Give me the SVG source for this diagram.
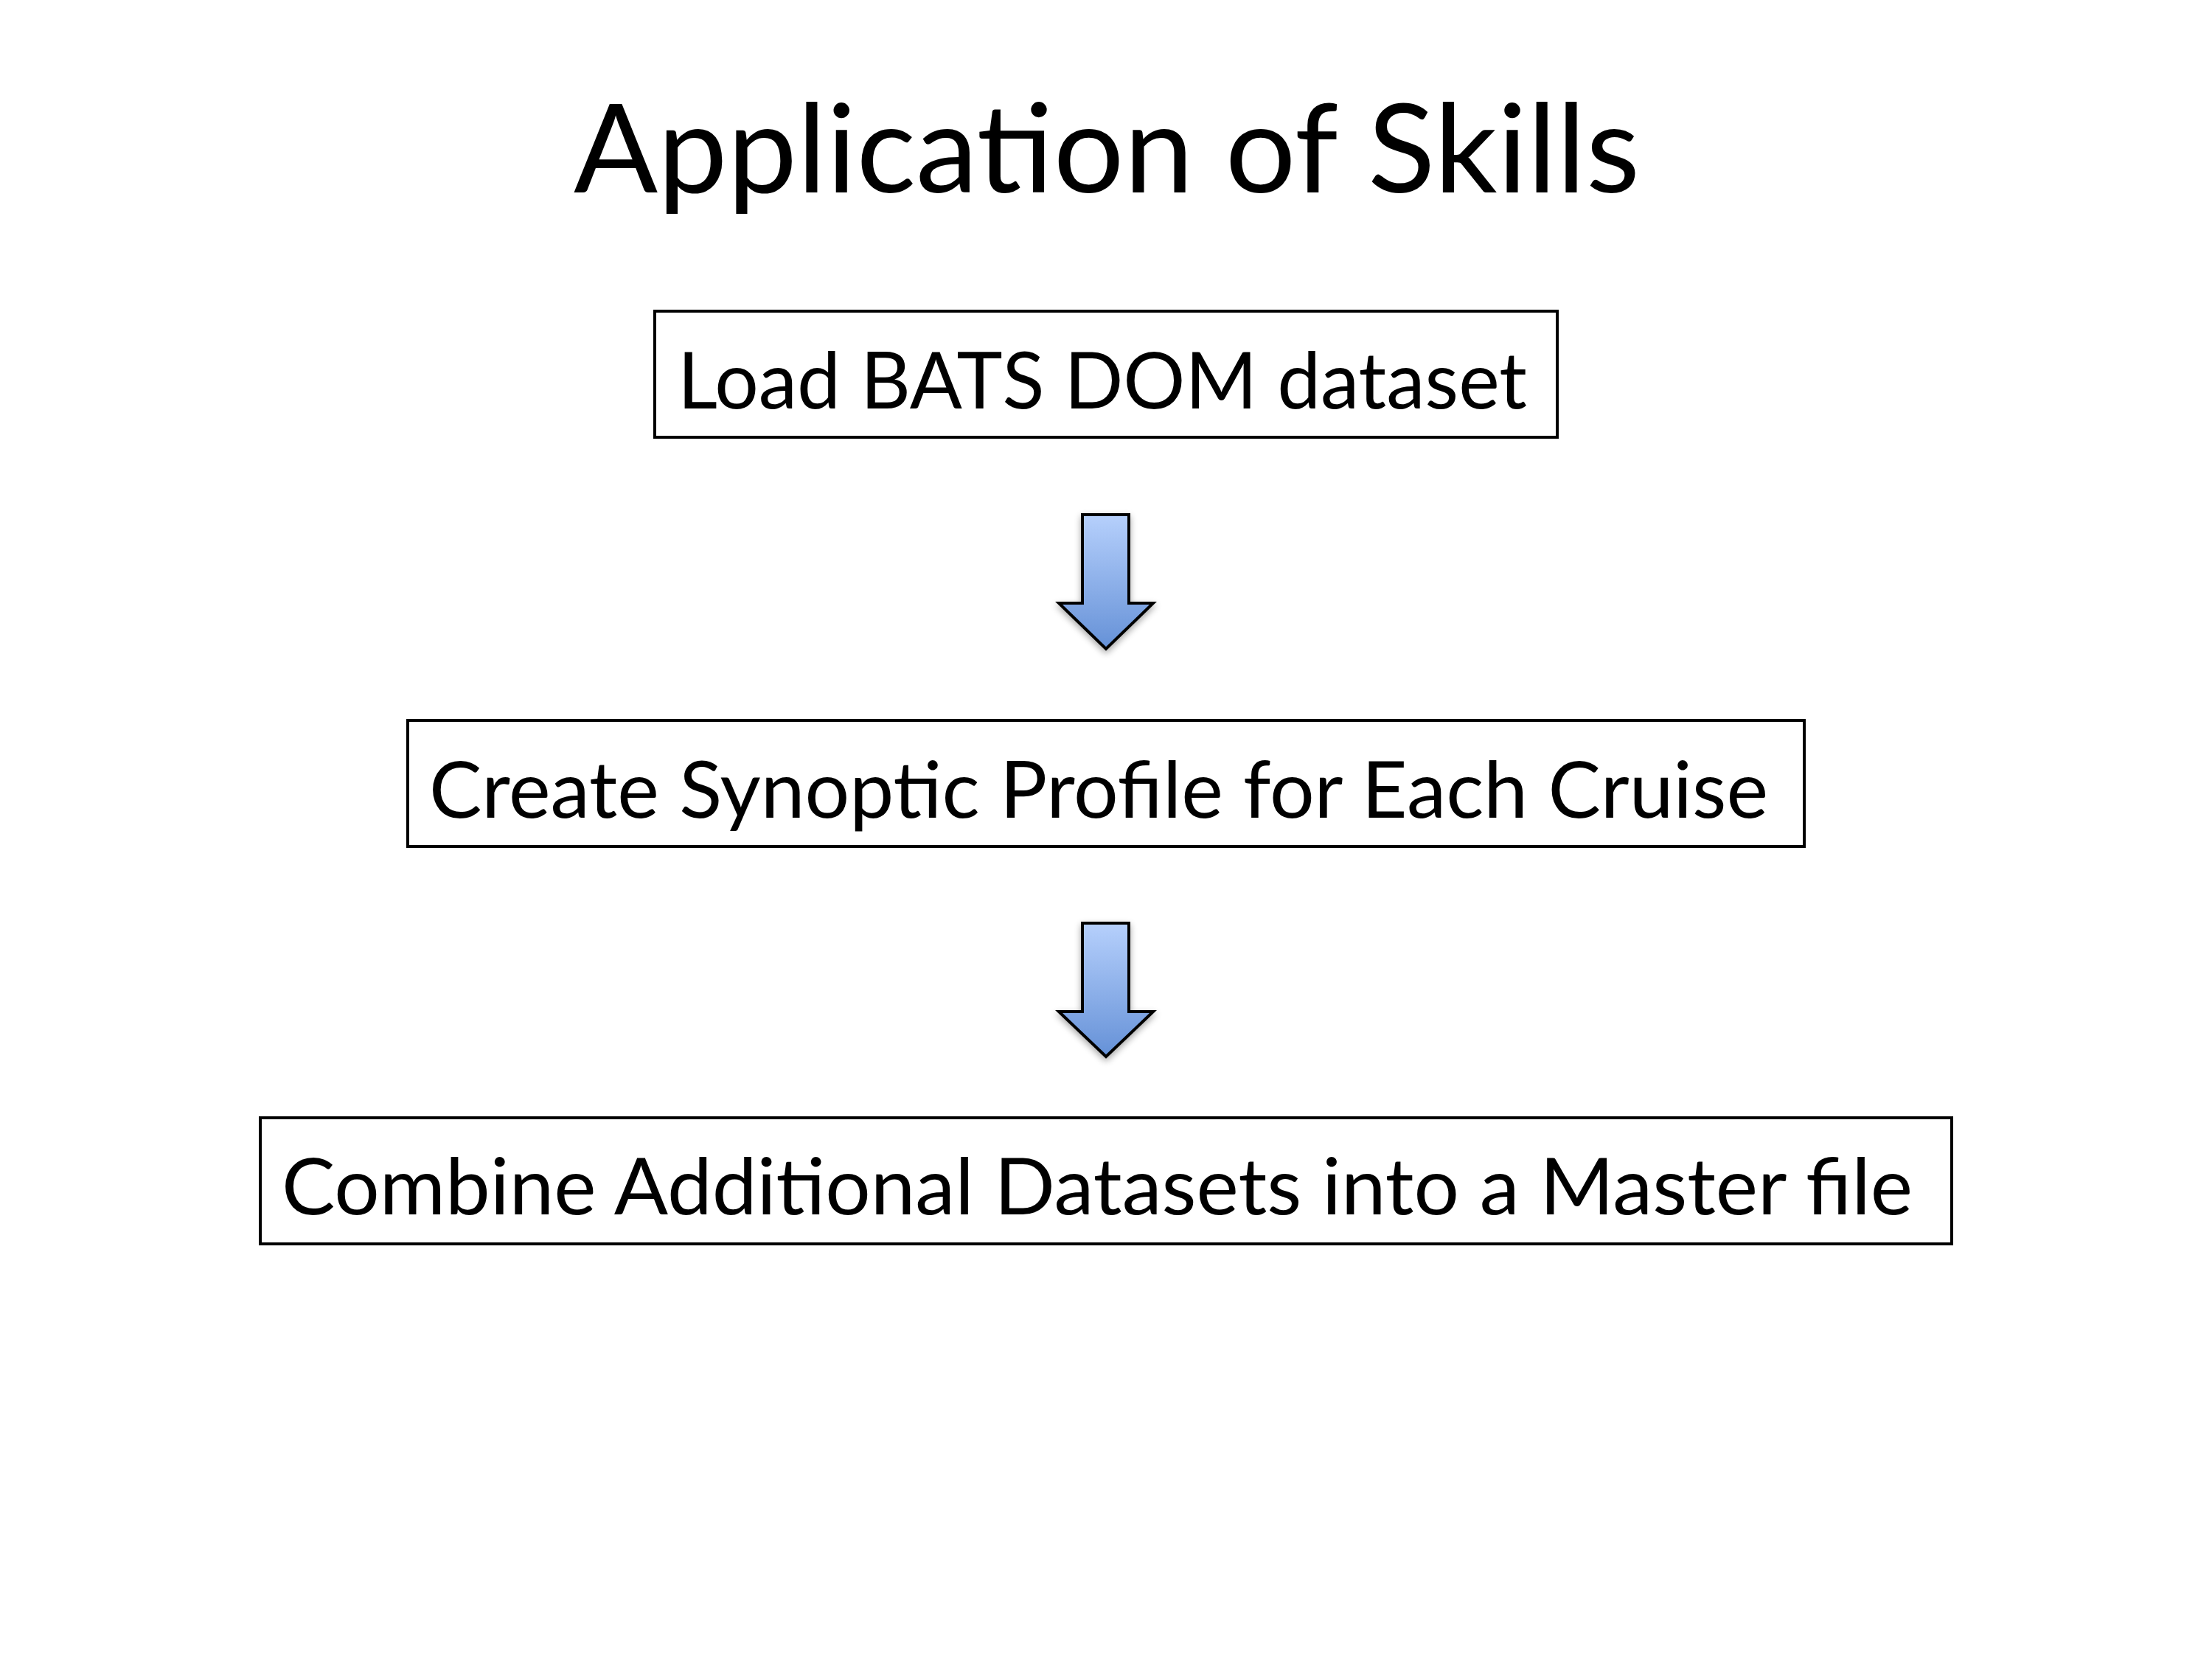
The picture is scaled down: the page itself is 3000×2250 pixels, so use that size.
<svg xmlns="http://www.w3.org/2000/svg" width="3000" height="2250" viewBox="0 0 3000 2250">
<style>
.box{fill:#ffffff;stroke:#000000;stroke-width:4}
.lbl{font-family:Lato,"Open Sans","Liberation Sans",sans-serif;font-size:106px;fill:#000000}
.title{font-family:Lato,"Open Sans","Liberation Sans",sans-serif;font-size:166px;fill:#000000}
.arr{fill:url(#blueGrad);stroke:#000000;stroke-width:4;stroke-linejoin:miter;filter:url(#shadow)}
</style>
<defs>
<linearGradient id="blueGrad" x1="0" y1="0" x2="0" y2="1">
<stop offset="0" stop-color="#b6d0fc"/>
<stop offset="1" stop-color="#6591d7"/>
</linearGradient>
<filter id="shadow" x="-30%" y="-20%" width="160%" height="140%">
<feGaussianBlur in="SourceAlpha" stdDeviation="5"/>
<feOffset dx="0" dy="4" result="b"/>
<feComponentTransfer><feFuncA type="linear" slope="0.35"/></feComponentTransfer>
<feMerge><feMergeNode/><feMergeNode in="SourceGraphic"/></feMerge>
</filter>
</defs>
<rect width="3000" height="2250" fill="#ffffff"/>
<text id="title" class="title" x="778" y="261" textLength="1446" lengthAdjust="spacingAndGlyphs">Application of Skills</text>
<g id="connectors">
<path class="arr" d="M1468,698 H1531 V818 H1564 L1500,880 L1436,818 H1468 Z"/>
<path class="arr" d="M1468,1252 H1531 V1372 H1564 L1500,1433 L1436,1372 H1468 Z"/>
</g>
<g id="node1">
<rect class="box" x="888" y="422" width="1224" height="171"/>
<text class="lbl" x="919" y="554" textLength="1152" lengthAdjust="spacingAndGlyphs">Load BATS DOM dataset</text>
</g>
<g id="node2">
<rect class="box" x="553" y="977" width="1894" height="171"/>
<text class="lbl" x="582" y="1109" textLength="1816" lengthAdjust="spacingAndGlyphs">Create Synoptic Profile for Each Cruise</text>
</g>
<g id="node3">
<rect class="box" x="353" y="1516" width="2294" height="171"/>
<text class="lbl" x="382" y="1647" textLength="2212" lengthAdjust="spacingAndGlyphs">Combine Additional Datasets into a Master file</text>
</g>
</svg>
